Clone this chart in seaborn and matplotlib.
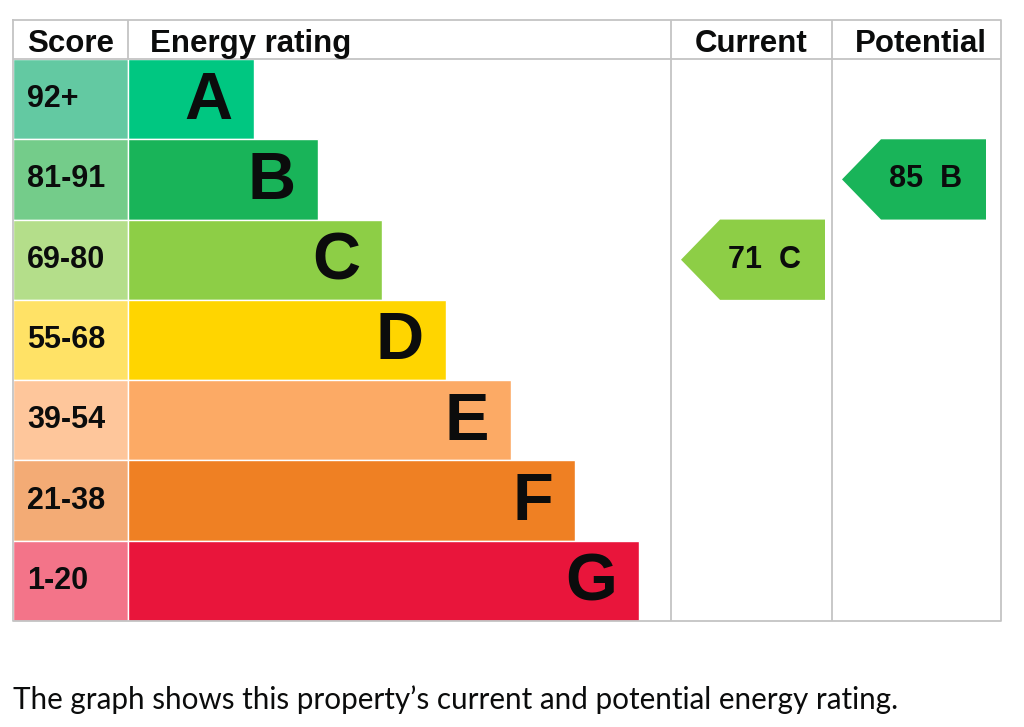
import seaborn as sns
import matplotlib.pyplot as plt
from matplotlib.patches import Polygon

# energy bands
ratings = ['A', 'B', 'C', 'D', 'E', 'F', 'G']
score_ranges = ['92+', '81-91', '69-80', '55-68', '39-54', '21-38', '1-20']
band_low = [92, 81, 69, 55, 39, 21, 1]
bar_lengths = [126, 190, 254, 318, 383, 447, 511]
bar_colors = ['#00c781', '#19b459', '#8dce46', '#ffd500', '#fcaa65', '#ef8023', '#e9153b']
score_colors = ['#63c9a2', '#74cc8a', '#b4de8a', '#ffe266', '#fec69b', '#f3ab75', '#f37489']

current_score = 71
potential_score = 85
caption = 'The graph shows this property\u2019s current and potential energy rating.'

W, H = 1024, 727
SCORE_W = 115
CUR = (543, 704)
POT = (704, 873)
ARROW_W = 144
GRID = '#c4c4c4'
INK = '#0b0c0c'


def band_of(score):
    for i, low in enumerate(band_low):
        if score >= low:
            return i
    return len(band_low) - 1


sns.set_theme(style='white')
plt.rcParams['font.family'] = ['Liberation Sans', 'DejaVu Sans']

fig = plt.figure(figsize=(W / 100, H / 100), dpi=100)
ax = fig.add_axes([13 / W, 1 - 621 / H, (1001 - 13) / W, (621 - 20) / H])

# score cells (drawn leftwards from zero) and rating bars
sns.barplot(x=[-SCORE_W] * len(ratings), y=ratings, hue=ratings, palette=score_colors,
            width=1.0, orient='h', legend=False, ax=ax, saturation=1)
sns.barplot(x=bar_lengths, y=ratings, hue=ratings, palette=bar_colors,
            width=1.0, orient='h', legend=False, ax=ax, saturation=1)

header_top = -0.5 - 39 / 80.3
ax.set_xlim(-SCORE_W, POT[1])
ax.set_ylim(len(ratings) - 0.5, header_top)
ax.set_axis_off()

for i, (r, s, L) in enumerate(zip(ratings, score_ranges, bar_lengths)):
    ax.text(-SCORE_W + 14, i, s, ha='left', va='center', fontsize=22, fontweight='bold', color=INK)
    ax.text(L - 22, i + 0.03, r, ha='right', va='center', fontsize=48, fontweight='bold', color=INK)

# grid lines
lw = 1.3
ax.plot([-SCORE_W, POT[1], POT[1], -SCORE_W, -SCORE_W],
        [header_top, header_top, len(ratings) - 0.5, len(ratings) - 0.5, header_top],
        color=GRID, lw=lw, clip_on=False)
ax.plot([-SCORE_W, POT[1]], [-0.5, -0.5], color=GRID, lw=lw)
ax.plot([0, 0], [header_top, -0.5], color=GRID, lw=lw)
for x in (CUR[0], CUR[1]):
    ax.plot([x, x], [header_top, len(ratings) - 0.5], color=GRID, lw=lw)

# headers
hy = (header_top - 0.5) / 2 + 0.05
ax.text(-SCORE_W + 14, hy, 'Score', ha='left', va='center', fontsize=22.5, fontweight='bold', color=INK)
ax.text(22, hy, 'Energy rating', ha='left', va='center', fontsize=22.5, fontweight='bold', color=INK)
ax.text(sum(CUR) / 2, hy, 'Current', ha='center', va='center', fontsize=22.5, fontweight='bold', color=INK)
ax.text(sum(POT) / 2 + 4, hy, 'Potential', ha='center', va='center', fontsize=22.5, fontweight='bold', color=INK)


def draw_arrow(col, score):
    i = band_of(score)
    x0 = col[0] + 10
    x1 = x0 + ARROW_W
    pts = [(x0, i), (x0 + 39, i - 0.5), (x1, i - 0.5), (x1, i + 0.5), (x0 + 39, i + 0.5)]
    ax.add_patch(Polygon(pts, closed=True, facecolor=bar_colors[i], edgecolor='none'))
    ax.text(x1 - 24, i, '{}  {}'.format(score, ratings[i]), ha='right', va='center',
            fontsize=22, fontweight='bold', color=INK)


draw_arrow(CUR, current_score)
draw_arrow(POT, potential_score)

fig.text(13 / W, 1 - 700 / H, caption, ha='left', va='center', fontsize=21.3,
         family=['Lato', 'DejaVu Sans'], color=INK)

fig.savefig('out.png', dpi=100)
plt.close(fig)
